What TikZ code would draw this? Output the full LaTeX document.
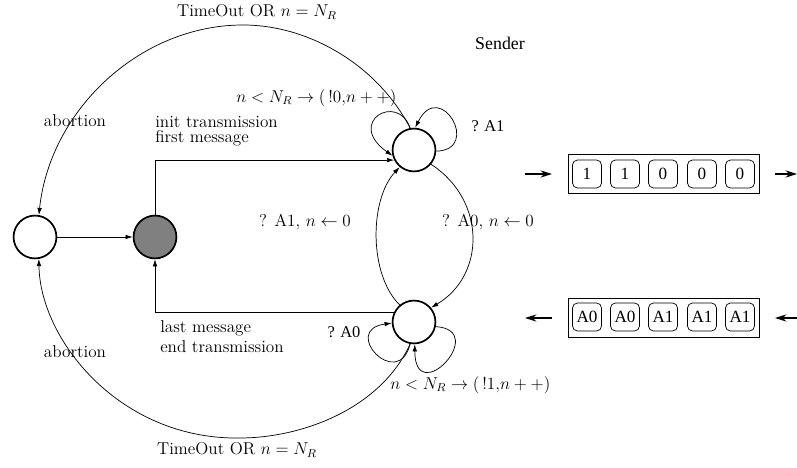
\documentclass[tikz,border=0pt]{standalone}
\usepackage{fontspec}
\newfontfamily\tms{Liberation Serif}
\usetikzlibrary{arrows.meta}
\begin{document}
\begin{tikzpicture}[x=0.7pt,y=-0.7pt,
  st/.style={circle,draw,line width=1.2pt,minimum size=30pt,inner sep=0pt},
  ed/.style={-{Latex[length=5pt,width=3.2pt]},line width=0.5pt},
  lbl/.style={font=\fontsize{12}{10.6}\selectfont,inner sep=0pt},
  tm/.style={font=\tms\fontsize{11.5}{12}\selectfont,inner sep=0pt},
  qbox/.style={draw,line width=0.6pt,minimum width=133.7pt,minimum height=27.3pt,inner sep=0pt},
  cell/.style={draw,line width=0.5pt,rounded corners=3.5pt,minimum width=20.3pt,minimum height=19.6pt,inner sep=0pt,font=\tms\fontsize{12}{12}\selectfont},
  chan/.style={-{Stealth[length=8pt,width=5pt]},line width=0.8pt}]
\useasboundingbox (0,0) rectangle (797,468);

% states
\node[st] (L) at (35,237) {};
\node[st,fill=black!50] (G) at (155,237) {};
\node[st] (T) at (414,150) {};
\node[st] (B) at (414,322) {};

% main edges
\draw[ed] (L) -- (G);
\draw[ed] (G.north) |- (T.207);
\draw[ed] (B.153) -| (G.south);
\draw[ed] (T.-40) .. controls (486,200) and (486,275) .. (B.40);
\draw[ed] (B.130) .. controls (369,275) and (369,200) .. (T.230);

% abortion arcs
\draw[ed] (T.100) .. controls (378,66) and (310,25) .. (243,25) .. controls (140,25) and (50,110) .. (L.80);
\draw[ed] (B.-100) .. controls (380,410) and (300,438) .. (240,438) .. controls (120,440) and (40,340) .. (L.-80);

% self loops
\draw[ed] (T.100) .. controls (398,92) and (345,122) .. (T.195);
\draw[ed] (T.-3) .. controls (482,150) and (440,78) .. (T.87);
\draw[ed] (B.-100) .. controls (398,392) and (340,330) .. (B.183);
\draw[ed] (B.-12) .. controls (490,330) and (415,410) .. (B.-88);

% labels
\node[lbl] (l1) at (257,12) {TimeOut OR $n=N_R$};
\node[lbl] (l2) at (237,450) {TimeOut OR $n=N_R$};
\node[lbl] (l3) at (75,121) {abortion};
\node[lbl] (l4) at (75,352) {abortion};
\node[lbl,anchor=west,align=left] (l5) at (155,131) {init transmission\\first message};
\node[lbl,anchor=west] (l7) at (160,328) {last message};
\node[lbl,anchor=west] (l8) at (160,347) {end transmission};
\node[lbl,anchor=west] (l9) at (236,98) {$n<N_R\rightarrow(\,!0{,}n++)$};
\node[lbl,anchor=west] (l10) at (390,385) {$n<N_R\rightarrow(\,!1{,}n++)$};
\node[lbl] (l11) at (305,222) {? A1, $n\leftarrow 0$};
\node[lbl] (l12) at (488,222) {? A0, $n\leftarrow 0$};
\node[tm] (l13) at (488,126) {? A1};
\node[tm] (l14) at (344,332) {? A0};
\node[tm,font=\tms\fontsize{12.5}{12}\selectfont] (l15) at (500,43) {Sender};

% channels
\node[qbox] (Q1) at (663.5,173.5) {};
\node[qbox] (Q2) at (663.5,317.5) {};
\foreach \x/\t [count=\i] in {587/1,625/1,663/0,702/0,740/0}
  \node[cell] (c\i) at (\x,174) {\t};
\foreach \x/\t [count=\i] in {587/A0,625/A0,663/A1,702/A1,740/A1}
  \node[cell] (d\i) at (\x,317) {\t};
\coordinate (a1) at (525,174); \coordinate (a2) at (552,174);
\coordinate (a3) at (775,174); \coordinate (a4) at (797,174);
\coordinate (b1) at (552,318); \coordinate (b2) at (525,318);
\coordinate (b3) at (797,318); \coordinate (b4) at (775,318);
\draw[chan] (a1) -- (a2);
\draw[chan] (a3) -- (a4);
\draw[chan] (b1) -- (b2);
\draw[chan] (b3) -- (b4);
\end{tikzpicture}
\end{document}
